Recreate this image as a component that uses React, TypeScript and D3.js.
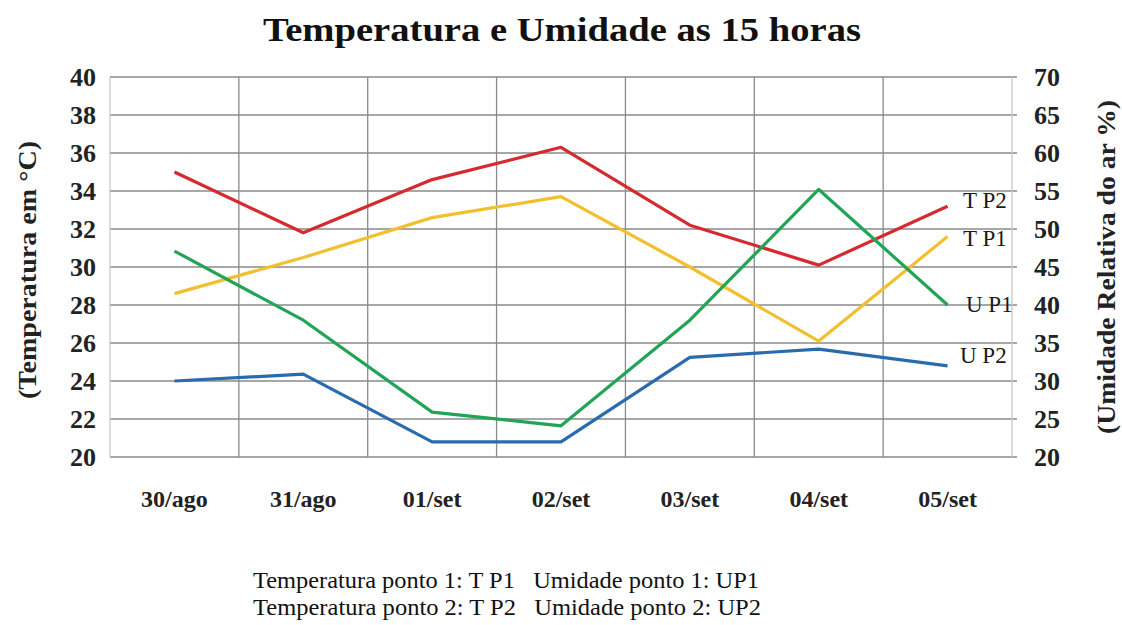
import React from 'react';
import * as d3 from 'd3';

// dias e leituras das 15h
const dias = ['30/ago', '31/ago', '01/set', '02/set', '03/set', '04/set', '05/set'];
const tempP1 = [28.6, 30.5, 32.6, 33.7, 30.0, 26.1, 31.6];
const tempP2 = [35.0, 31.8, 34.6, 36.3, 32.2, 30.1, 33.2];
const umidP1 = [47.1, 38.0, 25.9, 24.1, 38.0, 55.2, 40.0];
const umidP2 = [30.0, 30.9, 22.0, 22.0, 33.1, 34.2, 32.0];

const ticksTemp = [20, 22, 24, 26, 28, 30, 32, 34, 36, 38, 40];
const ticksUmid = [20, 25, 30, 35, 40, 45, 50, 55, 60, 65, 70];

const W = 1122;
const H = 625;
const m = { left: 110, right: 1012, top: 77, bottom: 457 };
const serif = '"Liberation Serif", "Times New Roman", serif';

const App: React.FC = () => {
  const x = d3.scaleBand<string>().domain(dias).range([m.left, m.right]);
  const yT = d3.scaleLinear().domain([20, 40]).range([m.bottom, m.top]);
  const yU = d3.scaleLinear().domain([20, 70]).range([m.bottom, m.top]);
  const cx = (i: number) => (x(dias[i]) ?? 0) + x.bandwidth() / 2;

  const lineT = d3.line<number>().x((_, i) => cx(i)).y(d => yT(d));
  const lineU = d3.line<number>().x((_, i) => cx(i)).y(d => yU(d));

  const series = [
    { nome: 'T P2', vals: tempP2, cor: '#d52a2f', gen: lineT, dx: 963, dy: 208 },
    { nome: 'T P1', vals: tempP1, cor: '#f2c02f', gen: lineT, dx: 963, dy: 246 },
    { nome: 'U P1', vals: umidP1, cor: '#22a457', gen: lineU, dx: 966, dy: 312 },
    { nome: 'U P2', vals: umidP2, cor: '#2a6bad', gen: lineU, dx: 960, dy: 363 },
  ];

  return (
    <svg width={W} height={H} style={{ position: 'absolute', left: 0, top: 0, background: '#fff' }}>
      <text x={562} y={41} textAnchor="middle" fontFamily={serif} fontWeight="bold" fontSize={34}
        textLength={598} lengthAdjust="spacingAndGlyphs" fill="#111">
        Temperatura e Umidade as 15 horas
      </text>

      {/* grade horizontal */}
      {ticksTemp.map(t => (
        <line key={'h' + t} x1={m.left} x2={m.right + 5} y1={yT(t)} y2={yT(t)} stroke="#8a8a8a" strokeWidth={1.3} />
      ))}
      {/* grade vertical */}
      {dias.slice(1).map(d => (
        <line key={'v' + d} x1={x(d)} x2={x(d)} y1={m.top} y2={m.bottom} stroke="#8a8a8a" strokeWidth={1.3} />
      ))}
      <line x1={m.left} x2={m.left} y1={m.top} y2={m.bottom} stroke="#c8c8c8" strokeWidth={1.3} />
      <line x1={m.right} x2={m.right} y1={m.top} y2={m.bottom} stroke="#c8c8c8" strokeWidth={1.3} />

      {series.map(s => (
        <path key={s.nome} d={s.gen(s.vals) ?? ''} fill="none" stroke={s.cor} strokeWidth={3.2} strokeLinejoin="round" />
      ))}
      {series.map(s => (
        <text key={'l' + s.nome} x={s.dx} y={s.dy} fontFamily={serif} fontSize={23} fill="#1a1a1a">{s.nome}</text>
      ))}

      {/* eixo esquerdo */}
      {ticksTemp.map(t => (
        <text key={'tl' + t} x={96} y={yT(t) + 9} textAnchor="end" fontFamily={serif} fontWeight="bold" fontSize={26} fill="#222">{t}</text>
      ))}
      {/* eixo direito */}
      {ticksUmid.map(t => (
        <text key={'tr' + t} x={1034} y={yU(t) + 9} fontFamily={serif} fontWeight="bold" fontSize={26} fill="#222">{t}</text>
      ))}
      {dias.map((d, i) => (
        <text key={'x' + d} x={cx(i)} y={507} textAnchor="middle" fontFamily={serif} fontWeight="bold" fontSize={24} fill="#222">{d}</text>
      ))}

      <text transform={`translate(36,270) rotate(-90)`} textAnchor="middle" textLength={258} lengthAdjust="spacingAndGlyphs"
        fontFamily={serif} fontWeight="bold" fontSize={25} fill="#222">(Temperatura em °C)</text>
      <text transform={`translate(1115,267) rotate(-90)`} textAnchor="middle" textLength={334} lengthAdjust="spacingAndGlyphs"
        fontFamily={serif} fontWeight="bold" fontSize={25} fill="#222">(Umidade Relativa do ar %)</text>

      <text x={253} y={588} fontFamily={serif} fontSize={23} fill="#111" xmlSpace="preserve"
        textLength={506} lengthAdjust="spacingAndGlyphs">
        {'Temperatura ponto 1: T P1   Umidade ponto 1: UP1'}
      </text>
      <text x={253} y={615} fontFamily={serif} fontSize={23} fill="#111" xmlSpace="preserve"
        textLength={508} lengthAdjust="spacingAndGlyphs">
        {'Temperatura ponto 2: T P2   Umidade ponto 2: UP2'}
      </text>
    </svg>
  );
};

export default App;
